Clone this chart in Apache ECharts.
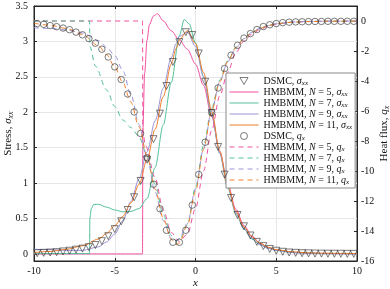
<!DOCTYPE html>
<html><head><meta charset="utf-8">
<script src="https://cdn.jsdelivr.net/npm/echarts@6/dist/echarts.min.js"></script>
<style>html,body{margin:0;padding:0;background:#fff}#c{width:390px;height:289px}</style>
</head><body><div id="c"></div>
<script>
// DSMC samples
const dsmcX = [-9.8,-9.4,-9.0,-8.6,-8.2,-7.8,-7.4,-7.0,-6.6,-6.2,-5.8,-5.4,-5.0,-4.6,-4.2,-3.8,-3.4,-3.0,-2.6,-2.2,-1.8,-1.4,-1.0,-0.6,-0.2,0.2,0.6,1.0,1.4,1.8,2.2,2.6,3.0,3.4,3.8,4.2,4.6,5.0,5.4,5.8,6.2,6.6,7.0,7.4,7.8,8.2,8.6,9.0,9.4,9.8];
const dsmcSigma = [0.01,0.015,0.02,0.025,0.035,0.045,0.06,0.075,0.095,0.125,0.18,0.25,0.35,0.46,0.62,0.8,1.03,1.33,1.62,1.98,2.37,2.71,2.99,3.13,3.09,2.83,2.43,1.99,1.51,1.12,0.79,0.55,0.39,0.26,0.17,0.11,0.07,0.045,0.03,0.02,0.015,0.01,0.008,0.005,0.004,0.003,0.002,0.002,0.001,0.001];
const dsmcQ = [-0.17,-0.22,-0.3,-0.38,-0.47,-0.58,-0.74,-0.92,-1.17,-1.48,-1.88,-2.4,-3.06,-3.9,-4.87,-6.06,-7.5,-9.12,-10.88,-12.52,-13.95,-14.75,-14.75,-13.95,-12.27,-10.23,-8.08,-6.1,-4.46,-3.17,-2.28,-1.62,-1.14,-0.84,-0.57,-0.37,-0.25,-0.17,-0.11,-0.08,-0.06,-0.05,-0.04,-0.03,-0.03,-0.02,-0.02,-0.02,-0.02,-0.02];

// HMBMM smooth solutions (N = 9, 11)
const xGrid = [-10,-9,-8,-7,-6,-5.5,-5,-4.5,-4,-3.5,-3,-2.5,-2,-1.5,-1.2,-1,-0.5,0,0.5,1,1.5,2,2.5,3,3.5,4,4.5,5,6,7,8,10];
const sigmaN9 = [0.065,0.06,0.05,0.05,0.1,0.17,0.28,0.47,0.74,1.06,1.44,1.88,2.34,2.77,2.97,3.07,3.13,2.93,2.5,1.97,1.42,0.94,0.58,0.36,0.22,0.13,0.08,0.05,0.02,0.01,0.005,0.002];
const sigmaN11 = [0.02,0.035,0.065,0.115,0.21,0.29,0.4,0.53,0.72,0.98,1.33,1.76,2.22,2.68,2.9,3.02,3.15,2.97,2.56,2.02,1.45,0.96,0.6,0.38,0.24,0.15,0.095,0.06,0.03,0.015,0.01,0.005];
const qN9 = [-0.45,-0.5,-0.6,-0.8,-1.3,-1.75,-2.3,-3.3,-4.9,-6.9,-9.1,-11.4,-13.3,-14.5,-14.65,-14.5,-13.5,-11.2,-8.5,-6.0,-4.05,-2.7,-1.8,-1.18,-0.76,-0.48,-0.3,-0.18,-0.07,-0.03,-0.015,-0.005];
const qN11 = [-0.15,-0.28,-0.5,-0.9,-1.65,-2.25,-3.05,-4.1,-5.4,-7.05,-9.0,-11.2,-13.15,-14.55,-14.9,-14.8,-13.6,-11.35,-8.55,-6.0,-4.05,-2.7,-1.8,-1.18,-0.78,-0.5,-0.3,-0.18,-0.08,-0.04,-0.02,-0.01];

// HMBMM N = 5 (with sub-shock)
const xSigmaN5 = [-10,-3.28,-3.26,-3.15,-3.0,-2.85,-2.6,-2.35,-2.0,-1.5,-1.0,-0.5,0,0.5,1,1.5,2,2.5,3,3.5,4,4.5,5,6,7,8,10];
const sigmaN5 = [0,0,1.75,2.55,3.02,3.24,3.36,3.39,3.29,3.15,3.02,2.89,2.68,2.38,1.94,1.45,0.98,0.63,0.4,0.25,0.15,0.09,0.055,0.02,0.01,0.005,0.002];
const xQN5 = [-10,-3.28,-3.26,-3.1,-2.5,-2.0,-1.5,-1.0,-0.5,0,0.5,1,1.5,2,2.5,3,3.5,4,4.5,5,6,7,8,10];
const qN5 = [0,0,-7.4,-8.3,-10.45,-12.6,-14.1,-14.7,-14.2,-12.5,-10.0,-7.3,-5.0,-3.4,-2.1,-1.35,-0.88,-0.56,-0.35,-0.21,-0.08,-0.03,-0.015,-0.005];

// HMBMM N = 7 (with sub-shock)
const xSigmaN7 = [-10,-6.56,-6.54,-6.45,-6.3,-6.0,-5.5,-5.0,-4.5,-4.0,-3.5,-3.0,-2.5,-2.0,-1.5,-1.0,-0.7,-0.4,0,0.5,1,1.5,2,2.5,3,3.5,4,4.5,5,6,7,8,10];
const sigmaN7 = [0.005,0.005,0.5,0.64,0.7,0.7,0.66,0.62,0.595,0.6,0.64,0.78,1.22,1.82,2.42,3.08,3.31,3.25,2.98,2.5,1.98,1.42,0.93,0.57,0.35,0.21,0.13,0.08,0.05,0.02,0.01,0.005,0.002];
const xQN7 = [-10,-6.56,-6.54,-6.2,-5.5,-5.0,-4.5,-4.0,-3.5,-3.0,-2.5,-2.0,-1.5,-1.2,-1.0,-0.5,0,0.5,1,1.5,2,2.5,3,3.5,4,4.5,5,6,7,8,10];
const qN7 = [0,0,-1.7,-3.0,-4.6,-5.7,-6.6,-7.1,-7.7,-9.0,-10.9,-12.9,-14.3,-14.65,-14.6,-13.6,-11.1,-8.3,-5.8,-3.95,-2.65,-1.75,-1.15,-0.75,-0.48,-0.3,-0.18,-0.07,-0.03,-0.015,-0.005];

const names = ['DSMC, σxx','HMBMM, N = 5, σxx','HMBMM, N = 7, σxx','HMBMM, N = 9, σxx','HMBMM, N = 11, σxx',
               'DSMC, qx','HMBMM, N = 5, qx','HMBMM, N = 7, qx','HMBMM, N = 9, qx','HMBMM, N = 11, qx'];
const richNames = ['DSMC, {i|σ}{s|xx}','HMBMM, {i|N} = 5, {i|σ}{s|xx}','HMBMM, {i|N} = 7, {i|σ}{s|xx}','HMBMM, {i|N} = 9, {i|σ}{s|xx}','HMBMM, {i|N} = 11, {i|σ}{s|xx}',
               'DSMC, {i|q}{s|x}','HMBMM, {i|N} = 5, {i|q}{s|x}','HMBMM, {i|N} = 7, {i|q}{s|x}','HMBMM, {i|N} = 9, {i|q}{s|x}','HMBMM, {i|N} = 11, {i|q}{s|x}'];
const colors = {n5:'#f0509f', n7:'#52c29a', n9:'#9a94d6', n11:'#f07f2c'};

const pairs = (xs, ys) => xs.map((x, i) => [x, ys[i]]);
const FONT = 'Liberation Serif';
const AX = '#262626';
const rich = {
  i: {fontFamily: FONT, fontStyle: 'italic', fontSize: 10, lineHeight: 11, color: '#111'},
  s: {fontFamily: FONT, fontStyle: 'italic', fontSize: 7, lineHeight: 11, padding: [5,0,0,0], color: '#111'}
};
const nameRich = {
  i: {fontFamily: FONT, fontStyle: 'italic', fontSize: 11, color: '#111'},
  s: {fontFamily: FONT, fontStyle: 'italic', fontSize: 8, padding: [6,0,0,0], color: '#111'}
};

function lineSeries(name, data, color, yIdx, dashed) {
  return {name, type: 'line', data, yAxisIndex: yIdx, symbol: 'none', smooth: 0.3, smoothMonotone: 'x',
    lineStyle: {color, width: 1, type: dashed ? [5, 4] : 'solid'}, itemStyle: {color}, z: 3, animation: false};
}
function markerSeries(name, data, symbol, rot, yIdx) {
  return {name, type: 'scatter', data, yAxisIndex: yIdx, symbol, symbolSize: symbol === 'circle' ? 6.5 : 7, symbolRotate: rot,
    itemStyle: {color: 'rgba(0,0,0,0)', borderColor: '#333', borderWidth: 0.8}, z: 4, animation: false};
}
const hollow = {color: 'rgba(0,0,0,0)', borderColor: '#333', borderWidth: 0.8};
const legendData = names.map((n, i) => {
  if (i === 0) return {name: n, icon: 'path://M0,0 L10,0 L5,8.66 Z', itemStyle: hollow};
  if (i === 5) return {name: n, icon: 'circle', itemStyle: hollow};
  return {name: n, itemStyle: {color: 'rgba(0,0,0,0)', borderWidth: 0, opacity: 0}, lineStyle: {width: 1}};
});

const chart = echarts.init(document.getElementById('c'), null, {renderer: 'canvas'});
chart.setOption({
  animation: false,
  backgroundColor: '#fff',
  grid: {left: 34, right: 33, top: 6, bottom: 28, containLabel: false, outerBoundsMode: 'none',
         show: true, borderColor: AX, borderWidth: 1, backgroundColor: 'transparent'},
  xAxis: [
    {type: 'value', min: -10, max: 10, interval: 5, position: 'bottom',
     name: 'x', nameLocation: 'middle', nameGap: 17, nameMoveOverlap: false,
     nameTextStyle: {fontFamily: FONT, fontStyle: 'italic', fontSize: 11, color: '#111'},
     axisLine: {show: true, onZero: false, lineStyle: {color: AX, width: 1}},
     axisTick: {show: true, inside: true, length: 3, lineStyle: {color: AX}},
     axisLabel: {fontFamily: FONT, fontSize: 10, color: '#111', margin: 5},
     splitLine: {show: true, lineStyle: {color: '#e6e6e6', width: 1}}},
    {type: 'value', min: -10, max: 10, interval: 5, position: 'top',
     axisLine: {show: true, onZero: false, lineStyle: {color: AX, width: 1}},
     axisTick: {show: true, inside: true, length: 3, lineStyle: {color: AX}},
     axisLabel: {show: false}, splitLine: {show: false}}
  ],
  yAxis: [
    {type: 'value', min: -0.1, max: 3.5, splitNumber: 7, position: 'left',
     name: 'Stress, {i|σ}{s|xx}', nameLocation: 'middle', nameGap: 19, nameRotate: 90, nameMoveOverlap: false,
     nameTextStyle: {fontFamily: FONT, fontSize: 11, color: '#111', rich: nameRich},
     axisLine: {show: true, onZero: false, lineStyle: {color: AX, width: 1}},
     axisTick: {show: true, inside: true, length: 3, lineStyle: {color: AX}},
     axisLabel: {fontFamily: FONT, fontSize: 10, color: '#111', margin: 6, showMinLabel: false},
     splitLine: {show: true, lineStyle: {color: '#e6e6e6', width: 1}}},
    {type: 'value', min: -16, max: 1, interval: 2, position: 'right',
     name: 'Heat flux, {i|q}{s|x}', nameLocation: 'middle', nameGap: 20, nameRotate: 90, nameMoveOverlap: false,
     nameTextStyle: {fontFamily: FONT, fontSize: 11, color: '#111', rich: nameRich},
     axisLine: {show: true, onZero: false, lineStyle: {color: AX, width: 1}},
     axisTick: {show: true, inside: true, length: 3, lineStyle: {color: AX}},
     axisLabel: {fontFamily: FONT, fontSize: 10, color: '#111', margin: 4, showMaxLabel: false},
     splitLine: {show: false}}
  ],
  legend: {
    orient: 'vertical', left: 226, top: 73, data: legendData,
    padding: [2, 3, 2, 3], itemGap: -1, itemWidth: 29, itemHeight: 7, symbolKeepAspect: true,
    lineStyle: {width: 1},
    backgroundColor: '#fff', borderColor: '#8a8a8a', borderWidth: 1, borderRadius: 0,
    textStyle: {fontFamily: FONT, fontSize: 10, lineHeight: 11, color: '#111', rich},
    formatter: (n) => richNames[names.indexOf(n)]
  },
  series: [
    markerSeries(names[0], pairs(dsmcX, dsmcSigma), 'triangle', 180, 0),
    lineSeries(names[1], pairs(xSigmaN5, sigmaN5), colors.n5, 0, false),
    lineSeries(names[2], pairs(xSigmaN7, sigmaN7), colors.n7, 0, false),
    lineSeries(names[3], pairs(xGrid, sigmaN9), colors.n9, 0, false),
    lineSeries(names[4], pairs(xGrid, sigmaN11), colors.n11, 0, false),
    markerSeries(names[5], pairs(dsmcX, dsmcQ), 'circle', 0, 1),
    lineSeries(names[6], pairs(xQN5, qN5), colors.n5, 1, true),
    lineSeries(names[7], pairs(xQN7, qN7), colors.n7, 1, true),
    lineSeries(names[8], pairs(xGrid, qN9), colors.n9, 1, true),
    lineSeries(names[9], pairs(xGrid, qN11), colors.n11, 1, true)
  ]
});
</script></body></html>
